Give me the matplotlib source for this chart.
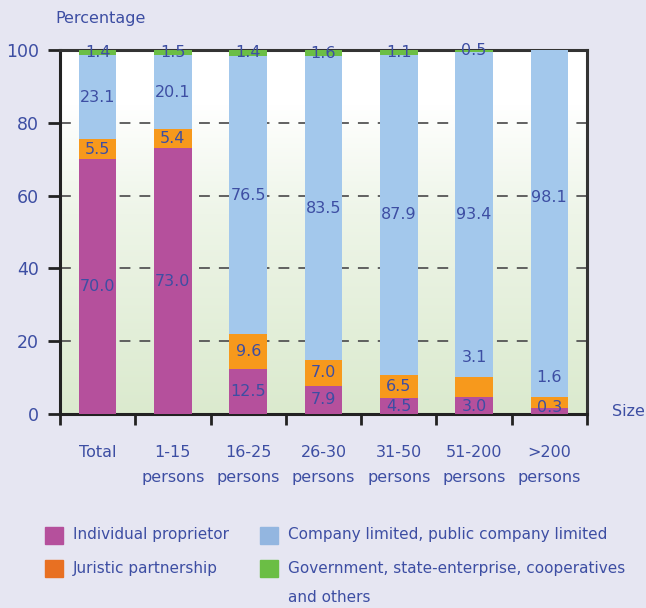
import matplotlib
matplotlib.use('Agg')
import matplotlib.pyplot as plt
import numpy as np
from matplotlib.patches import Rectangle
from matplotlib.colors import LinearSegmentedColormap

categories = ['Total', '1-15\npersons', '16-25\npersons', '26-30\npersons',
              '31-50\npersons', '51-200\npersons', '>200\npersons']

# bar heights as drawn in the reference
individual = [70.0, 73.0, 12.3, 7.8, 4.3, 4.7, 1.6]
juristic   = [5.5, 5.4, 9.6, 7.0, 6.5, 5.5, 3.1]
company    = [23.1, 20.1, 76.5, 83.5, 87.9, 89.3, 95.3]
government = [1.4, 1.5, 1.6, 1.7, 1.3, 0.5, 0.0]

# value labels as printed in the reference
lab_individual = ['70.0', '73.0', '12.5', '7.9', '4.5', '3.0', '0.3']
lab_juristic   = ['5.5', '5.4', '9.6', '7.0', '6.5', '3.1', '1.6']
lab_company    = ['23.1', '20.1', '76.5', '83.5', '87.9', '93.4', '98.1']
lab_government = ['1.4', '1.5', '1.4', '1.6', '1.1', '0.5', '']

series = [
    ('Individual proprietor', individual, lab_individual, '#B5509C', '#B5509C'),
    ('Juristic partnership', juristic, lab_juristic, '#F7991C', '#E87022'),
    ('Company limited, public company limited', company, lab_company, '#A3C8EC', '#93B6E0'),
    ('Government, state-enterprise, cooperatives\nand others', government, lab_government, '#6BBE45', '#6BBE45'),
]

# a few labels sit away from their segment centre in the original
label_y_override = {(1, 5): 15.6, (1, 6): 10.0, (2, 6): 59.6, (0, 5): 2.1, (0, 6): 1.7}

TXT = '#3D4EA3'
BG = '#E6E6F2'
plt.rcParams['font.family'] = ['DejaVu Sans']

fig = plt.figure(figsize=(6.46, 6.08), dpi=100)
fig.patch.set_facecolor(BG)
ax = fig.add_axes([60/646, 1-414/608, 527/646, 364/608])

# background gradient: white at top, pale green at bottom
cmap = LinearSegmentedColormap.from_list('bg', [(0, '#DBEACE'), (0.55, '#EEF5E8'), (0.85, '#FFFFFF'), (1, '#FFFFFF')])
grad = np.linspace(0, 1, 256).reshape(-1, 1)
ax.imshow(grad, extent=[-0.5, 6.5, 0, 100], origin='lower', aspect='auto', cmap=cmap, zorder=0)

x = np.arange(len(categories))
bottom = np.zeros(len(categories))
for si, (name, vals, labs, col, lcol) in enumerate(series):
    vals = np.array(vals)
    ax.bar(x, vals, bottom=bottom, width=0.5, color=col, edgecolor='none', zorder=3)
    for i in range(len(x)):
        if not labs[i]:
            continue
        yy = label_y_override.get((si, i), bottom[i] + vals[i] / 2)
        ax.text(x[i], yy, labs[i], ha='center', va='center', color=TXT, fontsize=11.5, zorder=4)
    bottom += vals

for g in [20, 40, 60, 80]:
    ax.axhline(g, color='#555555', lw=1.3, ls=(0, (6, 5)), zorder=1)

ax.set_xlim(-0.5, 6.5)
ax.set_ylim(0, 100)
ax.set_yticks([0, 20, 40, 60, 80, 100])
ax.tick_params(axis='y', direction='out', length=9, width=2, color='#222222', labelcolor=TXT, labelsize=12.5, pad=6)
ax.set_xticks(np.arange(-0.5, 7, 1))
ax.set_xticklabels([])
ax.set_xticks(x, minor=True)
ax.set_xticklabels(categories, minor=True, color=TXT, fontsize=11.5, linespacing=1.9)
ax.tick_params(axis='x', which='major', direction='out', length=8, width=2, color='#222222')
ax.tick_params(axis='x', which='minor', length=0, pad=22)

for s in ['left', 'bottom']:
    ax.spines[s].set_linewidth(2.2)
    ax.spines[s].set_color('#222222')
for s in ['top', 'right']:
    ax.spines[s].set_linewidth(2.2)
    ax.spines[s].set_color('#333333')

fig.text(55/646, 1-18/608, 'Percentage', color=TXT, fontsize=11.5, va='center', ha='left')
fig.text(612/646, 1-411/608, 'Size', color=TXT, fontsize=11.5, va='center', ha='left')

# legend drawn by hand
leg_pos = [(45, 535), (45, 568), (260, 535), (260, 568)]
for (name, vals, labs, col, lcol), (lx, ly) in zip(series, leg_pos):
    fig.patches.append(Rectangle((lx/646, 1-(ly+9)/608), 18/646, 17/608,
                                 transform=fig.transFigure, color=lcol))
    if '\n' in name:
        fig.text((lx+28)/646, 1-(ly-7)/608, name, color=TXT, fontsize=11, va='top',
                 ha='left', linespacing=2.2)
    else:
        fig.text((lx+28)/646, 1-ly/608, name, color=TXT, fontsize=11, va='center', ha='left')

fig.savefig('out.png', dpi=100, facecolor=fig.get_facecolor())
